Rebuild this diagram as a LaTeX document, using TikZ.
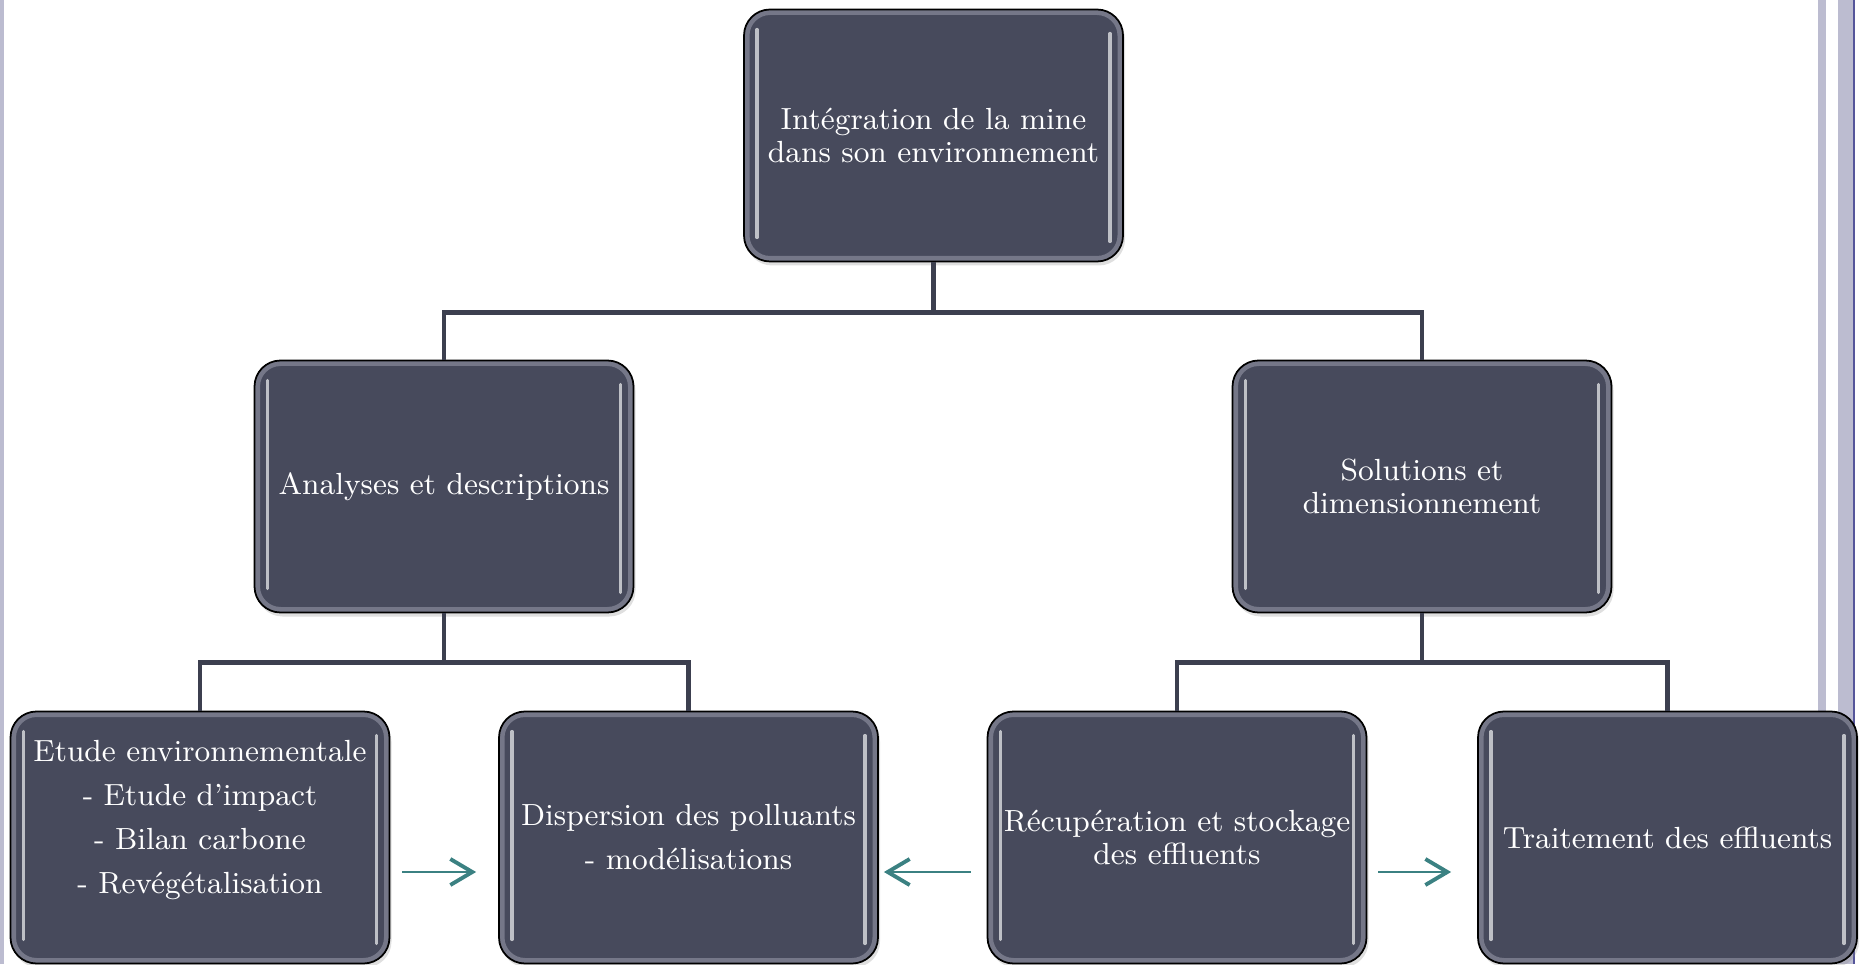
\documentclass[tikz,border=0pt]{standalone}
\usepackage{fontspec}
\usepackage{tikz}
\usetikzlibrary{arrows.meta,positioning,shadows}
\definecolor{slate}{HTML}{474A5C}
\definecolor{rim}{HTML}{9496A6}
\definecolor{bus}{HTML}{3C3F4F}
\definecolor{arrteal}{HTML}{3B8182}
\definecolor{lav}{HTML}{BCBCD0}
\definecolor{edgeblue}{HTML}{55559A}

\begin{document}
\begin{tikzpicture}[
  blk/.style={draw=black,line width=0.5pt,fill=slate,rounded corners=0.26cm,
              minimum width=3.79cm,minimum height=2.52cm,inner sep=2pt,
              align=center,text=white,font=\fontsize{8.7}{9.2}\selectfont,
              drop shadow={opacity=0.25,shadow xshift=0.02cm,shadow yshift=-0.04cm},
              path picture={
                \draw[rim,opacity=0.6,line width=0.11cm]
                  (path picture bounding box.south west) rectangle
                  (path picture bounding box.north east);
                \draw[white!65!slate,line width=0.9pt,line cap=round]
                  ([xshift=0.13cm,yshift=-0.2cm]path picture bounding box.north west) --
                  ([xshift=0.13cm,yshift=0.24cm]path picture bounding box.south west);
                \draw[white!65!slate,line width=0.9pt,line cap=round]
                  ([xshift=-0.13cm,yshift=-0.24cm]path picture bounding box.north east) --
                  ([xshift=-0.13cm,yshift=0.2cm]path picture bounding box.south east);
              }},
  link/.style={draw=bus,line width=1.3pt},
  flow/.style={-{Straight Barb[length=2.2mm,width=2.6mm,line width=1.1pt]},
               draw=arrteal,line width=0.5pt}
]
\useasboundingbox (0,0) rectangle (18.6,9.64);
% slide frame
\fill[lav] (0,0) rectangle (0.04,9.64);
\fill[lav] (18.18,0) rectangle (18.26,9.64);
\fill[lav] (18.38,0) rectangle (18.53,9.64);
\fill[edgeblue] (18.53,0) rectangle (18.55,9.64);

\node[blk] (mine)  at (9.335,8.285) {Intégration de la mine\\dans son environnement};
\node[blk] (ana)   at (4.44,4.775)  {Analyses et descriptions};
\node[blk] (sol)   at (14.22,4.775) {Solutions et\\dimensionnement};
\node[blk] (etude) at (2.00,1.265)  {Etude environnementale\\[3.3pt]- Etude d’impact\\[3.3pt]- Bilan carbone\\[3.3pt]- Revégétalisation\rule[-0.41cm]{0pt}{0.41cm}};
\node[blk] (disp)  at (6.885,1.265) {Dispersion des polluants\\[3.3pt]- modélisations};
\node[blk] (recup) at (11.77,1.265) {Récupération et stockage\\des effluents};
\node[blk] (trait) at (16.675,1.265) {Traitement des effluents};

\draw[link] (mine.south) -- ++(0,-0.5) -| (ana.north);
\draw[link] (mine.south) -- ++(0,-0.5) -| (sol.north);
\draw[link] (ana.south) -- ++(0,-0.49) -| (etude.north);
\draw[link] (ana.south) -- ++(0,-0.49) -| (disp.north);
\draw[link] (sol.south) -- ++(0,-0.49) -| (recup.north);
\draw[link] (sol.south) -- ++(0,-0.49) -| (trait.north);

\draw[flow,shorten <=0.12cm,shorten >=0.22cm]
  ([yshift=-0.345cm]etude.east) -- ([yshift=-0.345cm]disp.west);
\draw[flow,shorten <=0.16cm,shorten >=0.05cm]
  ([yshift=-0.345cm]recup.west) -- ([yshift=-0.345cm]disp.east);
\draw[flow,shorten <=0.11cm,shorten >=0.26cm]
  ([yshift=-0.345cm]recup.east) -- ([yshift=-0.345cm]trait.west);
\end{tikzpicture}
\end{document}
